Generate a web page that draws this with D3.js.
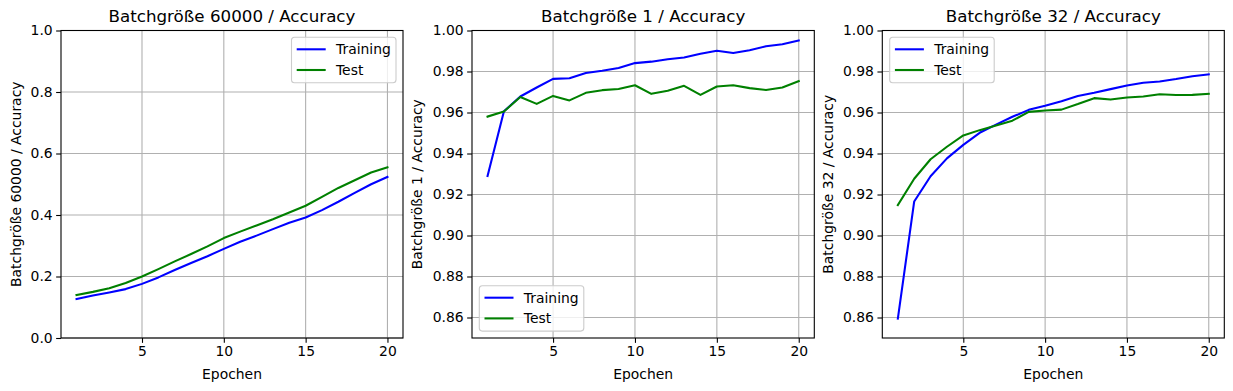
<!DOCTYPE html>
<html><head><meta charset="utf-8">
<script src="https://cdn.jsdelivr.net/npm/d3@7"></script>
<style>
body{margin:0;background:#fff;}
text{font-family:"DejaVu Sans",sans-serif;fill:#000;}
</style></head>
<body><svg id="c" width="1233" height="391"></svg>
<script>
const epochs = d3.range(1, 21);
const titles = ["Batchgröße 60000 / Accuracy", "Batchgröße 1 / Accuracy", "Batchgröße 32 / Accuracy"];
const yLabels = ["Batchgröße 60000 / Accuracy", "Batchgröße 1 / Accuracy", "Batchgröße 32 / Accuracy"];
const xLabel = "Epochen";
const seriesNames = ["Training", "Test"];
const train60000 = [0.127,0.138,0.148,0.159,0.176,0.197,0.221,0.244,0.266,0.290,0.313,0.333,0.354,0.375,0.392,0.416,0.443,0.472,0.500,0.524];
const test60000  = [0.140,0.150,0.162,0.179,0.200,0.224,0.249,0.273,0.298,0.325,0.346,0.366,0.386,0.408,0.430,0.459,0.488,0.513,0.538,0.555];
const train1 = [0.9290,0.9606,0.9678,0.9722,0.9764,0.9767,0.9793,0.9804,0.9817,0.9841,0.9848,0.9860,0.9868,0.9887,0.9901,0.9890,0.9904,0.9923,0.9933,0.9951];
const test1  = [0.9580,0.9605,0.9676,0.9642,0.9681,0.9659,0.9696,0.9709,0.9715,0.9733,0.9691,0.9706,0.9730,0.9686,0.9727,0.9733,0.9719,0.9710,0.9722,0.9753];
const train32 = [0.8595,0.9166,0.9289,0.9376,0.9442,0.9501,0.9541,0.9579,0.9613,0.9633,0.9655,0.9680,0.9696,0.9714,0.9732,0.9745,0.9751,0.9763,0.9777,0.9786];
const test32  = [0.9148,0.9277,0.9372,0.9433,0.9488,0.9514,0.9537,0.9560,0.9603,0.9610,0.9614,0.9641,0.9670,0.9663,0.9673,0.9678,0.9689,0.9685,0.9686,0.9691];
const xTicks = [5, 10, 15, 20];
const yTicks60000 = [0.0, 0.2, 0.4, 0.6, 0.8, 1.0];
const yTicksSmall = [0.86, 0.88, 0.90, 0.92, 0.94, 0.96, 0.98, 1.00];

const panels = [
  {left:61, right:403, train:train60000, test:test60000, yDom:[0,1], yTicks:yTicks60000, fmt:d3.format(".1f"), legend:{x:291.5, y:37.3}, ylabX:15.7},
  {left:472, right:814.3, train:train1, test:test1, yDom:[0.85,1.0], yTicks:yTicksSmall, fmt:d3.format(".2f"), legend:{x:479.3, y:285.7}, ylabX:417},
  {left:882.3, right:1224.3, train:train32, test:test32, yDom:[0.85,1.0], yTicks:yTicksSmall, fmt:d3.format(".2f"), legend:{x:889.7, y:37.3}, ylabX:828}
];
const plotTop = 30.5, plotBottom = 338;
const colors = ["#0000ff", "#008000"];
const svg = d3.select("#c");
const fs = 13.9;

panels.forEach((p, i) => {
  const x = d3.scaleLinear().domain([0.05, 20.95]).range([p.left, p.right]);
  const y = d3.scaleLinear().domain(p.yDom).range([plotBottom, plotTop]);
  const g = svg.append("g");
  g.selectAll(".gx").data(xTicks).enter().append("line")
    .attr("x1", d => x(d)).attr("x2", d => x(d)).attr("y1", plotTop).attr("y2", plotBottom)
    .attr("stroke", "#b0b0b0").attr("stroke-width", 1.1);
  g.selectAll(".gy").data(p.yTicks).enter().append("line")
    .attr("x1", p.left).attr("x2", p.right).attr("y1", d => y(d)).attr("y2", d => y(d))
    .attr("stroke", "#b0b0b0").attr("stroke-width", 1.1);
  const line = d3.line().x((d, k) => x(epochs[k])).y(d => y(d));
  [p.train, p.test].forEach((s, k) => {
    g.append("path").datum(s).attr("d", line).attr("fill", "none")
      .attr("stroke", colors[k]).attr("stroke-width", 2.08).attr("stroke-linejoin", "round").attr("stroke-linecap", "square");
  });
  const ax = d3.axisBottom(x).tickValues(xTicks).tickSize(4.86).tickPadding(3.5).tickFormat(d3.format("d"));
  const ay = d3.axisLeft(y).tickValues(p.yTicks).tickSize(4.86).tickPadding(3.5).tickFormat(p.fmt);
  const gx = g.append("g").attr("transform", `translate(0,${plotBottom})`).call(ax);
  const gy = g.append("g").attr("transform", `translate(${p.left},0)`).call(ay);
  [gx, gy].forEach(a => {
    a.select(".domain").remove();
    a.selectAll("line").attr("stroke", "#000").attr("stroke-width", 1.1);
    a.selectAll("text").style("font-size", fs + "px").style("font-family", "DejaVu Sans").attr("fill", "#000");
  });
  g.append("rect").attr("x", p.left).attr("y", plotTop).attr("width", p.right - p.left).attr("height", plotBottom - plotTop)
    .attr("fill", "none").attr("stroke", "#000").attr("stroke-width", 1.1);
  g.append("text").attr("x", (p.left + p.right) / 2).attr("y", 22).attr("text-anchor", "middle")
    .style("font-size", "16.7px").text(titles[i]);
  g.append("text").attr("x", (p.left + p.right) / 2).attr("y", 379).attr("text-anchor", "middle")
    .style("font-size", fs + "px").text(xLabel);
  g.append("text").attr("transform", `translate(${p.ylabX},${(plotTop + plotBottom) / 2}) rotate(-90)`)
    .attr("text-anchor", "middle").attr("dy", "0.35em").style("font-size", fs + "px").text(yLabels[i]);
  const L = g.append("g").attr("transform", `translate(${p.legend.x},${p.legend.y})`);
  L.append("rect").attr("x", 0).attr("y", 0).attr("width", 104.5).attr("height", 45.4).attr("rx", 3)
    .attr("fill", "#fff").attr("fill-opacity", 0.8).attr("stroke", "#cccccc").attr("stroke-width", 1.1);
  seriesNames.forEach((n, k) => {
    const cy = 12 + k * 20.7;
    L.append("line").attr("x1", 5.2).attr("x2", 34.2).attr("y1", cy).attr("y2", cy)
      .attr("stroke", colors[k]).attr("stroke-width", 2.08);
    L.append("text").attr("x", 44.5).attr("y", cy).attr("dy", "0.36em").style("font-size", fs + "px").text(n);
  });
});
</script></body></html>
